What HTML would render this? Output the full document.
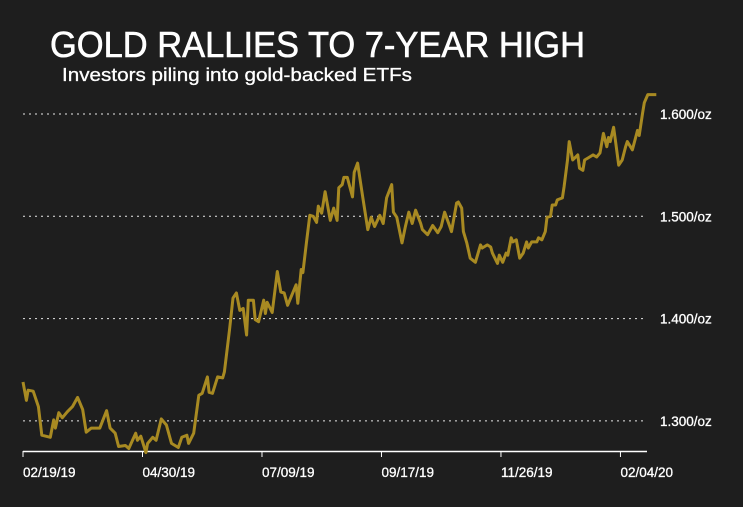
<!DOCTYPE html>
<html><head><meta charset="utf-8"><style>
html,body{margin:0;padding:0;background:#1e1e1e;}
svg{display:block;font-family:"Liberation Sans",sans-serif;}
</style></head><body>
<svg width="743" height="507" viewBox="0 0 743 507" id="chart">
<rect width="743" height="507" fill="#1e1e1e"/>
<text x="50" y="57" fill="#fff" font-size="36" stroke="#fff" stroke-width="0.6" textLength="535" lengthAdjust="spacingAndGlyphs">GOLD RALLIES TO 7-YEAR HIGH</text>
<text x="62" y="81" fill="#fff" font-size="18" stroke="#fff" stroke-width="0.3" textLength="350" lengthAdjust="spacingAndGlyphs">Investors piling into gold-backed ETFs</text>
<g id="grid"></g><g id="axis"></g><g id="series"></g>
</svg>
<script>
const days=[0,2,3,6,9,11,16,18,19,21,23,26,29,32,35,37,40,45,49,51,54,56,60,62,66,67,69,72,73,76,78,81,84,87,91,93,96,97,100,103,105,108,109,111,114,117,118,121,123,125,127,129,131,132,135,136,138,141,142,143,146,149,151,153,155,160,161,163,164,166,168,170,172,173,175,177,180,182,184,185,187,188,190,193,194,196,199,202,204,206,209,211,213,216,217,219,222,224,226,228,230,233,234,237,240,243,245,247,250,251,254,255,257,258,260,262,265,268,269,272,274,275,278,279,281,283,284,286,287,289,291,293,295,296,298,301,302,304,306,307,309,310,312,313,316,317,319,320,322,325,326,328,329,331,334,336,338,340,342,343,344,346,347,349,351,353,354,357,360,361,363,364,366,371];
const prices=[1338,1320,1330,1329,1314,1286,1284,1301,1293,1308,1303,1309,1314,1323,1311,1289,1293,1293,1310,1293,1288,1275,1276,1273,1288,1281,1285,1269,1278,1284,1281,1302,1296,1278,1274,1284,1286,1278,1288,1325,1327,1343,1328,1327,1343,1342,1348,1389,1420,1425,1408,1410,1384,1418,1418,1399,1397,1418,1405,1416,1406,1446,1426,1425,1413,1433,1415,1448,1445,1474,1501,1500,1494,1510,1503,1524,1496,1508,1496,1528,1531,1538,1538,1519,1543,1552,1519,1487,1499,1490,1501,1493,1518,1531,1504,1499,1474,1490,1504,1493,1506,1493,1487,1482,1491,1484,1490,1504,1490,1485,1513,1514,1508,1485,1474,1459,1455,1472,1469,1472,1470,1464,1454,1462,1455,1464,1462,1479,1475,1477,1459,1464,1475,1469,1475,1475,1479,1477,1485,1499,1500,1511,1511,1516,1518,1529,1555,1573,1555,1560,1547,1545,1555,1557,1560,1558,1562,1581,1568,1577,1573,1587,1575,1550,1555,1568,1573,1565,1584,1579,1601,1611,1619,1619];
const gridValues=[1300,1400,1500,1600];
const gridLabels=["1.300/oz","1.400/oz","1.500/oz","1.600/oz"];
const tickDays=[0,70,140,210,280,350];
const tickLabels=["02/19/19","04/30/19","07/09/19","09/17/19","11/26/19","02/04/20"];
const NS="http://www.w3.org/2000/svg";
const xS=d=>23+d*1.707;
const yS=v=>114+(1600-v)*1.023;
function mk(tag,attrs,parent){const e=document.createElementNS(NS,tag);for(const k in attrs)e.setAttribute(k,attrs[k]);parent.appendChild(e);return e;}
const grid=document.getElementById('grid');
gridValues.forEach((v,i)=>{
  const l=mk('line',{x1:23,x2:643,y1:yS(v),y2:yS(v),stroke:'#e8e8e8','stroke-width':1,'stroke-dasharray':'2,4'},grid);
  
  
  const t=mk('text',{x:660,y:yS(v)+5,fill:'#fff','font-size':13.5,stroke:'#fff','stroke-width':0.3},grid);
  t.textContent=gridLabels[i];
  
  
});
const axis=document.getElementById('axis');
const al=mk('line',{x1:23,x2:647,y1:451.5,y2:451.5,stroke:'#fff','stroke-width':1.5},axis);


tickDays.forEach((d,i)=>{
  const x=xS(d);
  const tk=mk('line',{x1:x,x2:x,y1:451,y2:457,stroke:'#fff','stroke-width':1},axis);
  
  
  const t=mk('text',{x:x,y:477,fill:'#fff','font-size':13.5,stroke:'#fff','stroke-width':0.3},axis);
  t.textContent=tickLabels[i];
  
  
});
const pts=days.map((d,i)=>xS(d).toFixed(1)+','+yS(prices[i]).toFixed(1)).join(' ');
const pl=mk('polyline',{points:pts,fill:'none',stroke:'#a88a22','stroke-width':3,'stroke-linejoin':'round'},document.getElementById('series'));


</script>
</body></html>
